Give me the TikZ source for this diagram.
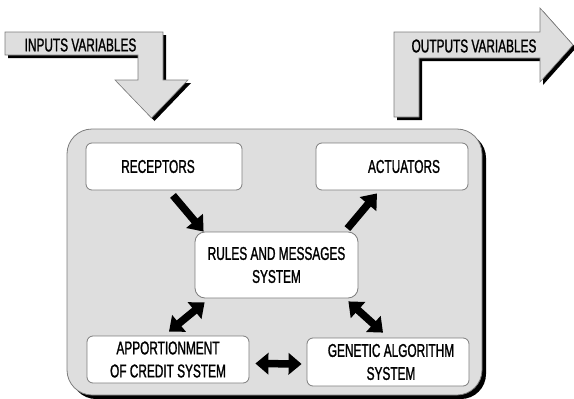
\documentclass[tikz,border=0pt]{standalone}
\usepackage{fontspec}
\setmainfont{Liberation Sans}[FakeStretch=0.64,FakeBold=1.2]
\usetikzlibrary{arrows.meta,calc,shadows}
\definecolor{panel}{RGB}{222,222,222}
\definecolor{edge}{RGB}{125,125,125}
\begin{document}
\begin{tikzpicture}[x=1pt,y=-1pt,
  txt/.style={font=\fontsize{18.5}{23}\selectfont, align=center, inner sep=0pt},
  box/.style={txt, draw=edge, line width=0.8pt, fill=white, rounded corners=6pt},
  blk/.style={line width=7.5pt, black, -{Triangle[length=14pt,width=21pt]}},
  dbl/.style={line width=7.5pt, black, {Triangle[length=13pt,width=21pt]}-{Triangle[length=13pt,width=21pt]}},
  bigarrow/.style={fill=panel, draw=edge, line width=0.6pt},
  shade/.style={fill=black}]
\useasboundingbox (0,0) rectangle (574,399);
\clip (0,0) rectangle (574,399);

% input arrow
\fill[shade, shift={(3,3)}] (5,32) -- (163,32) -- (163,80) -- (188,80) -- (151.5,118) -- (115,80) -- (138,80) -- (138,55) -- (5,55) -- cycle;
\draw[bigarrow] (5,32) -- (163,32) -- (163,80) -- (188,80) -- (151.5,118) -- (115,80) -- (138,80) -- (138,55) -- (5,55) -- cycle;
\node[txt] (inlab) at (80.5,45) {INPUTS VARIABLES};

% output arrow
\fill[shade, shift={(3,3)}] (394,117) -- (394,32) -- (540,32) -- (540,8) -- (573,45) -- (540,82) -- (540,58) -- (419,58) -- (419,117) -- cycle;
\draw[bigarrow] (394,117) -- (394,32) -- (540,32) -- (540,8) -- (573,45) -- (540,82) -- (540,58) -- (419,58) -- (419,117) -- cycle;
\node[txt] (outlab) at (474,46) {OUTPUTS VARIABLES};

% system panel
\node[draw=edge, fill=panel, rounded corners=25pt, minimum width=415pt, minimum height=266pt, line width=0.8pt,
  drop shadow={shadow xshift=4pt, shadow yshift=-4pt, fill=black, opacity=1}] (sys) at (274.5,262) {};

% boxes
\node[box, minimum width=156pt, minimum height=47pt] (rec) at (164,166.5) {\hspace*{-12pt}RECEPTORS};
\node[box, minimum width=152pt, minimum height=47pt] (act) at (392,166.5) {\hspace*{24pt}ACTUATORS};
\node[box, rounded corners=10pt, minimum width=163pt, minimum height=66pt] (rules) at (276.5,265) {RULES AND MESSAGES\\SYSTEM};
\node[box, minimum width=162pt, minimum height=47pt] (app) at (168,359.5) {APPORTIONMENT\\OF CREDIT SYSTEM};
\node[box, minimum width=162pt, minimum height=48pt] (gen) at (388,362) {\hspace*{6pt}GENETIC ALGORITHM\\\hspace*{6pt}SYSTEM};

% connectors
\draw[blk] ($(rec.south)+(9,5)$) -- ($(rules.north west)+(9,0)$);
\draw[blk] ($(rules.north east)+(-11,-3)$) -- ($(act.south)+(-15,3)$);
\draw[dbl] ($(app.north)+(1,-4)$) -- ($(rules.south west)+(10,4)$);
\draw[dbl] ($(rules.south east)+(-10,3)$) -- ($(gen.north)+(-5,-5)$);
\draw[dbl] ($(app.east)+(6,4)$) -- ($(gen.west)+(-5,2)$);
\end{tikzpicture}
\end{document}
